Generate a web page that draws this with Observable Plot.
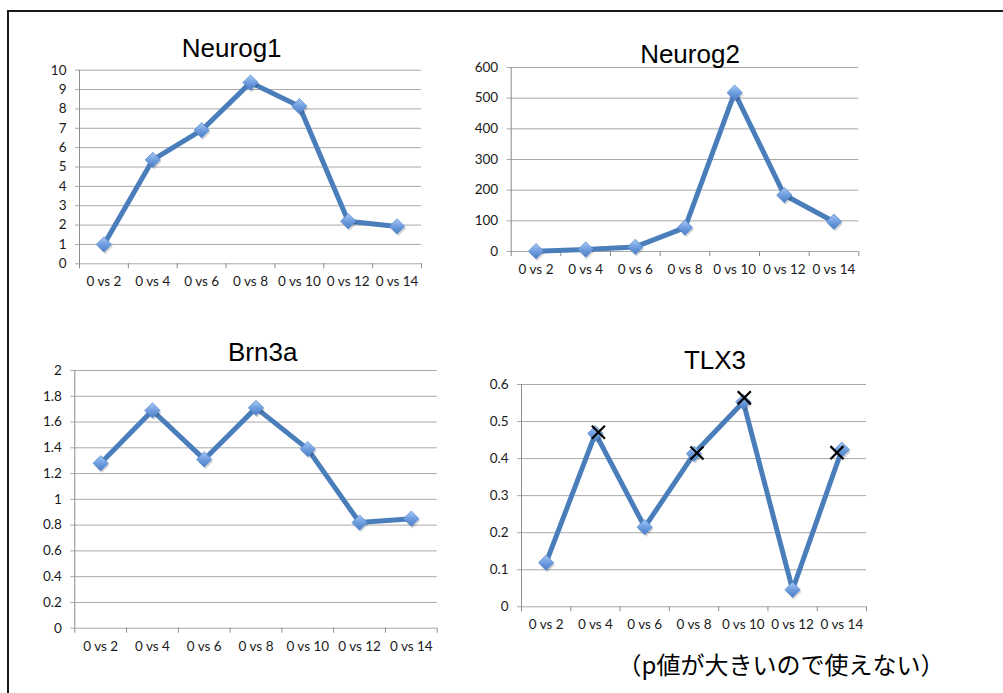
<!DOCTYPE html>
<html>
<head>
<meta charset="utf-8">
<script src="https://cdn.jsdelivr.net/npm/d3@7"></script>
<script src="https://cdn.jsdelivr.net/npm/@observablehq/plot@0.6"></script>
<style>
  html, body { margin: 0; padding: 0; background: #fff; }
  #page { position: relative; width: 1003px; height: 693px; overflow: hidden; background: #fff; }
  .border-top { position: absolute; left: 7px; top: 10px; right: 0; height: 2px; background: #1a1a1a; }
  .border-left { position: absolute; left: 7px; top: 10px; bottom: 0; width: 2px; background: #1a1a1a; }
  .title { position: absolute; font-family: "Liberation Sans", Arial, sans-serif; font-size: 26px; line-height: 26px; white-space: nowrap; color: #000; transform: translateX(-50%); }
  .panel { position: absolute; }
  .note { position: absolute; font-family: "Noto Sans CJK JP", sans-serif; font-size: 24px; line-height: 24px; white-space: nowrap; color: #000; transform: translate(-50%, -50%); }
</style>
</head>
<body>
<svg width="0" height="0" style="position:absolute">
  <defs>
    <linearGradient id="dgrad" x1="0" y1="0" x2="0" y2="1">
      <stop offset="0" stop-color="#a9c8f2"/>
      <stop offset="0.5" stop-color="#6f9ee0"/>
      <stop offset="1" stop-color="#4a7cc4"/>
    </linearGradient>
  </defs>
</svg>
<div id="page">
  <div class="border-top"></div>
  <div class="border-left"></div>
</div>
<script>
// ---- data ----
const categories = ["0 vs 2", "0 vs 4", "0 vs 6", "0 vs 8", "0 vs 10", "0 vs 12", "0 vs 14"];
const titles = ["Neurog1", "Neurog2", "Brn3a", "TLX3"];
const neurog1 = [1.0, 5.37, 6.9, 9.36, 8.14, 2.2, 1.93];
const neurog2 = [1, 6.5, 15, 78, 518, 184, 97];
const brn3a = [1.28, 1.69, 1.31, 1.71, 1.39, 0.82, 0.85];
const tlx3 = [0.119, 0.468, 0.215, 0.413, 0.553, 0.046, 0.424];
// "x" marks on the TLX3 panel (category position, value)
const tlx3CrossPos = [1.06, 3.06, 4.02, 5.9];
const tlx3CrossVal = [0.471, 0.415, 0.564, 0.416];
const neurog1Ticks = [0, 1, 2, 3, 4, 5, 6, 7, 8, 9, 10];
const neurog2Ticks = [0, 100, 200, 300, 400, 500, 600];
const brn3aTicks = [0, 0.2, 0.4, 0.6, 0.8, 1, 1.2, 1.4, 1.6, 1.8, 2];
const tlx3Ticks = [0, 0.1, 0.2, 0.3, 0.4, 0.5, 0.6];
const note = "（p値が大きいので使えない）";

// ---- layout ----
const page = document.getElementById("page");
const lineColor = "#4a7ebb";
const gridColor = "#a8a8a8";
const axisColor = "#8c8c8c";
const catIdx = categories.map((_, i) => i);
const bounds = d3.range(-0.5, categories.length, 1);

function panel(cfg) {
  const [sl, st, sw, sh] = cfg.svg;
  const [x0, y0, x1, y1] = cfg.plot;
  const rows = categories.map((c, i) => ({i, c, v: cfg.values[i]}));
  const marks = [
    Plot.gridY(cfg.ticks, {stroke: gridColor, strokeOpacity: 1}),
    Plot.axisY(cfg.ticks, {tickSize: 4, tickPadding: 9, stroke: gridColor, fill: "#1a1a1a", label: null, tickFormat: d => String(d)}),
    Plot.ruleX([-0.5], {stroke: axisColor}),
    Plot.axisX(bounds, {tickSize: 5, stroke: axisColor, label: null, tickFormat: () => ""}),
    Plot.axisX(catIdx, {tickSize: 0, tickPadding: 13, fill: "#1a1a1a", label: null, tickFormat: i => categories[i]}),
    Plot.line(rows, {x: "i", y: "v", stroke: lineColor, strokeWidth: 5, strokeLinejoin: "round", strokeLinecap: "round"}),
    Plot.dot(rows, {x: "i", y: "v", symbol: "diamond2", r: 7, fill: "#000", fillOpacity: 0.16, dx: 1.2, dy: 2}),
    Plot.dot(rows, {x: "i", y: "v", symbol: "diamond2", r: 6.9, fill: "url(#dgrad)", stroke: "#5d8dd0", strokeWidth: 0.8})
  ];
  if (cfg.cross) {
    const crows = cfg.cross.pos.map((p, k) => ({p, v: cfg.cross.val[k]}));
    marks.push(Plot.dot(crows, {x: "p", y: "v", symbol: "times", r: 6, stroke: "#000", strokeWidth: 2.2}));
  }
  const chart = Plot.plot({
    width: sw,
    height: sh,
    marginLeft: x0 - sl,
    marginRight: sl + sw - x1,
    marginTop: y0 - st,
    marginBottom: st + sh - y1,
    x: {type: "linear", domain: [-0.5, categories.length - 0.5], axis: null, label: null},
    y: {type: "linear", domain: cfg.domain, axis: null, label: null},
    style: {fontFamily: "Lato, 'Open Sans', sans-serif", fontSize: "13.5px", color: "#1a1a1a", background: "transparent", overflow: "visible"},
    marks
  });
  chart.classList.add("panel");
  chart.style.left = sl + "px";
  chart.style.top = st + "px";
  page.appendChild(chart);

  const t = document.createElement("div");
  t.className = "title";
  t.textContent = cfg.title;
  t.style.left = cfg.titlePos[0] + "px";
  t.style.top = (cfg.titlePos[1] - 22) + "px";
  page.appendChild(t);
}

panel({title: titles[0], values: neurog1, ticks: neurog1Ticks, domain: [0, 10],
  svg: [10, 62, 470, 240], plot: [79, 69.7, 421, 263.3], titlePos: [231.7, 56.7]});
panel({title: titles[1], values: neurog2, ticks: neurog2Ticks, domain: [0, 600],
  svg: [470, 58, 430, 240], plot: [510.7, 67, 858.3, 251], titlePos: [690, 62.7]});
panel({title: titles[2], values: brn3a, ticks: brn3aTicks, domain: [0, 2],
  svg: [10, 362, 470, 300], plot: [74.3, 370, 436.7, 627.7], titlePos: [262.7, 360.7]});
panel({title: titles[3], values: tlx3, ticks: tlx3Ticks, domain: [0, 0.6],
  svg: [470, 376, 430, 270], plot: [521, 384, 866, 606.3], titlePos: [715, 369],
  cross: {pos: tlx3CrossPos, val: tlx3CrossVal}});

const n = document.createElement("div");
n.className = "note";
n.textContent = note;
n.style.left = "781px";
n.style.top = "664px";
page.appendChild(n);
</script>
</body>
</html>
